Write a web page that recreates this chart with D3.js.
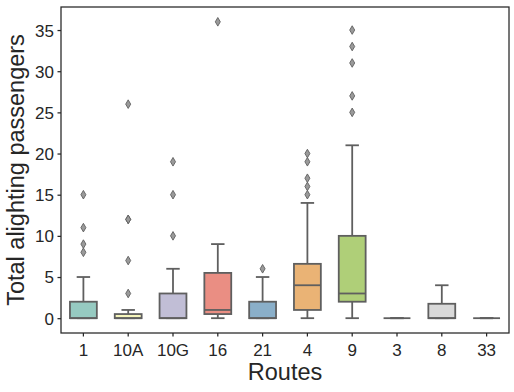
<!DOCTYPE html>
<html>
<head>
<meta charset="utf-8">
<script src="https://cdn.jsdelivr.net/npm/d3@7"></script>
<style>
  html, body { margin: 0; padding: 0; background: #ffffff; }
  svg { display: block; }
</style>
</head>
<body>
<script>
// ---- Data ----
const routes = ["1", "10A", "10G", "16", "21", "4", "9", "3", "8", "33"];
const q1 =        [0, 0,   0, 0.5, 0, 1,   2,  0, 0,    0];
const medians =   [0, 0,   0, 1,   0, 4,   3,  0, 0,    0];
const q3 =        [2, 0.5, 3, 5.5, 2, 6.6, 10, 0, 1.75, 0];
const whiskLow =  [0, 0,   0, 0,   0, 0,   0,  0, 0,    0];
const whiskHigh = [5, 1,   6, 9,   5, 14,  21, 0, 4,    0];
const outliers = [
  [15, 11, 9, 8],
  [26, 12, 12, 7, 3],
  [19, 15, 10],
  [36],
  [6],
  [20, 19, 17, 16, 15],
  [35, 33, 31, 27, 25],
  [],
  [],
  []
];
const colors = ["#96cac1", "#f6f6bc", "#c1bed6", "#ea8e83", "#8aafc9",
                "#eab375", "#afcf78", "#f6d3e5", "#d9d9d9", "#b588b5"];
const yTicks = [0, 5, 10, 15, 20, 25, 30, 35];
const xLabel = "Routes";
const yLabel = "Total alighting passengers";

// ---- Layout ----
const W = 514, H = 392;
const plot = { left: 61, right: 509, top: 7, bottom: 333 };
const gray = "#5f5f5f";
const ink = "#262626";
const font = "'Liberation Sans', Arial, sans-serif";

const svg = d3.select("body").append("svg")
  .attr("width", W).attr("height", H);

const x = d3.scaleBand()
  .domain(routes)
  .range([plot.left, plot.right])
  .paddingInner(0).paddingOuter(0);

const y = d3.scaleLinear()
  .domain([-1.8, 37.8])
  .range([plot.bottom, plot.top]);

const bw = x.bandwidth() * 0.6;

const g = svg.append("g");

routes.forEach((r, i) => {
  const cx = x(r) + x.bandwidth() / 2;
  const grp = g.append("g");
  // whiskers
  grp.append("line")
    .attr("x1", cx).attr("x2", cx)
    .attr("y1", y(q3[i])).attr("y2", y(whiskHigh[i]))
    .attr("stroke", gray).attr("stroke-width", 1.8);
  grp.append("line")
    .attr("x1", cx).attr("x2", cx)
    .attr("y1", y(q1[i])).attr("y2", y(whiskLow[i]))
    .attr("stroke", gray).attr("stroke-width", 1.8);
  // caps
  [whiskHigh[i], whiskLow[i]].forEach(v => {
    grp.append("line")
      .attr("x1", cx - bw / 4).attr("x2", cx + bw / 4)
      .attr("y1", y(v)).attr("y2", y(v))
      .attr("stroke", gray).attr("stroke-width", 1.8);
  });
  // box
  grp.append("rect")
    .attr("x", cx - bw / 2)
    .attr("width", bw)
    .attr("y", y(q3[i]))
    .attr("height", Math.max(0, y(q1[i]) - y(q3[i])))
    .attr("fill", colors[i])
    .attr("stroke", gray).attr("stroke-width", 1.8);
  // median
  grp.append("line")
    .attr("x1", cx - bw / 2).attr("x2", cx + bw / 2)
    .attr("y1", y(medians[i])).attr("y2", y(medians[i]))
    .attr("stroke", gray).attr("stroke-width", 1.8);
  // outliers (thin diamonds)
  outliers[i].forEach(v => {
    const py = y(v);
    grp.append("path")
      .attr("d", `M${cx},${py - 4.3}L${cx + 2.5},${py}L${cx},${py + 4.3}L${cx - 2.5},${py}Z`)
      .attr("fill", "#9a9a9a")
      .attr("stroke", gray).attr("stroke-width", 0.9);
  });
});

// frame
svg.append("rect")
  .attr("x", plot.left).attr("y", plot.top)
  .attr("width", plot.right - plot.left)
  .attr("height", plot.bottom - plot.top)
  .attr("fill", "none").attr("stroke", ink).attr("stroke-width", 1.25);

// axes
const xAxis = d3.axisBottom(x).tickSizeOuter(0).tickSizeInner(3.5).tickPadding(3.5);
const yAxis = d3.axisLeft(y).tickValues(yTicks).tickSizeOuter(0).tickSizeInner(3.5).tickPadding(3.5);

const gx = svg.append("g")
  .attr("transform", `translate(0,${plot.bottom})`)
  .call(xAxis);
const gy = svg.append("g")
  .attr("transform", `translate(${plot.left},0)`)
  .call(yAxis);

[gx, gy].forEach(a => {
  a.select(".domain").remove();
  a.selectAll(".tick line").attr("stroke", ink).attr("stroke-width", 1.25);
  a.selectAll(".tick text")
    .attr("fill", ink)
    .style("font-family", font)
    .style("font-size", "17px");
});
gx.selectAll(".tick text").attr("dy", "0.93em");
gy.selectAll(".tick text").attr("dy", "0.35em");

// axis labels
svg.append("text")
  .attr("x", (plot.left + plot.right) / 2)
  .attr("y", 380)
  .attr("text-anchor", "middle")
  .attr("fill", ink)
  .style("font-family", font)
  .style("font-size", "23.5px")
  .text(xLabel);

svg.append("text")
  .attr("transform", `translate(24,${(plot.top + plot.bottom) / 2}) rotate(-90)`)
  .attr("text-anchor", "middle")
  .attr("fill", ink)
  .style("font-family", font)
  .style("font-size", "23.5px")
  .text(yLabel);
</script>
</body>
</html>
